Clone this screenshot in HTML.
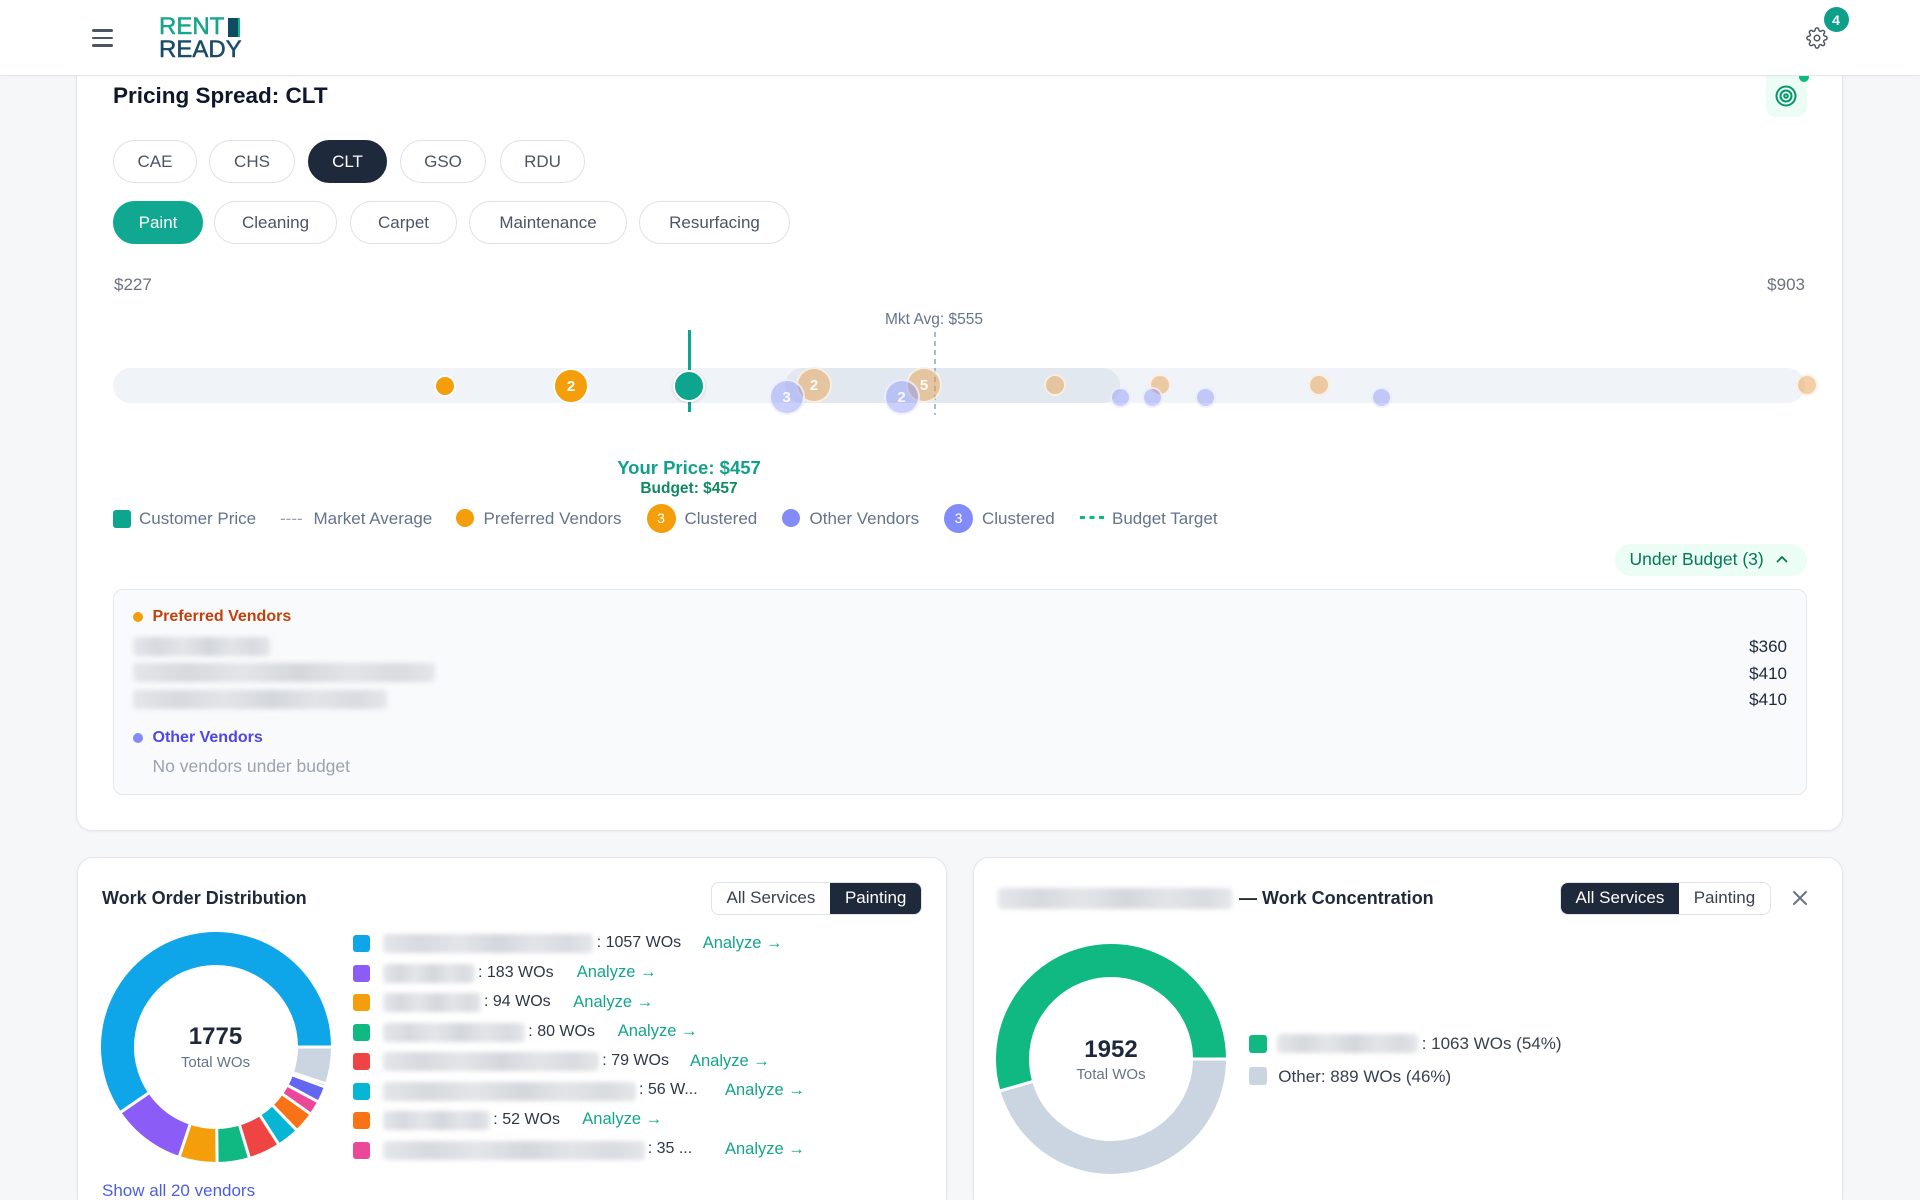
<!DOCTYPE html>
<html><head><meta charset="utf-8">
<style>
*{box-sizing:border-box;margin:0;padding:0}
html,body{width:1920px;height:1200px;overflow:hidden;background:#f6f7f9;font-family:"Liberation Sans",Arial,sans-serif;color:#1e293b;position:relative}
.t{position:absolute;white-space:nowrap;line-height:1}
.header{position:absolute;left:0;top:0;width:1920px;height:76px;background:#fff;border-bottom:1px solid #e6e8ec;box-shadow:0 1px 3px rgba(0,0,0,.04);z-index:10}
.card{position:absolute;background:#fff;border:1px solid #e3e6eb;border-radius:16px;box-shadow:0 1px 3px rgba(15,23,42,.05)}
.pill{position:absolute;border:1.5px solid #dde2ea;border-radius:22px;display:flex;align-items:center;justify-content:center;font-size:17px;color:#4b5563;background:#fff}
.b{position:absolute;border-radius:50%;display:flex;align-items:center;justify-content:center;color:#fff;font-weight:bold;font-size:15px}
.fo{background:rgba(232,160,80,.5);border:2px solid rgba(255,255,255,.7);color:rgba(255,255,255,.9)}
.fb{background:rgba(129,140,248,.42);border:2px solid rgba(255,255,255,.7);color:rgba(255,255,255,.9)}
.blur{position:absolute;border-radius:4px;background:linear-gradient(90deg,#e4e6ea 0%,#d6d9de 18%,#e3e5e9 36%,#d3d7dc 55%,#e2e4e8 72%,#d8dbe0 88%,#e4e6ea 100%);filter:blur(2.5px)}
.lg{font-size:17px;color:#64748b}
.sw{position:absolute;width:17px;height:17px;border-radius:3px}
.row{font-size:16px;color:#2d3748}
.an{font-size:16.5px;color:#14a58a}
.tog{position:absolute;height:33px;border:1px solid #dfe3ea;border-radius:8px;display:flex;overflow:hidden;background:#fff}
.tog div{display:flex;align-items:center;justify-content:center;font-size:17px;color:#374151;height:100%}
.tog .on{background:#1e293b;color:#fff}
</style></head><body>

<!-- header -->
<div class="header">
  <div style="position:absolute;left:92px;top:29px;width:21px;height:2.5px;background:#4b5563;border-radius:2px"></div>
  <div style="position:absolute;left:92px;top:36.5px;width:21px;height:2.5px;background:#4b5563;border-radius:2px"></div>
  <div style="position:absolute;left:92px;top:44px;width:21px;height:2.5px;background:#4b5563;border-radius:2px"></div>
  <div class="t" style="left:159px;top:15.3px;font-size:24px;color:#16a58d;-webkit-text-stroke:0.5px #16a58d">RENT</div>
  <div style="position:absolute;left:228px;top:18px;width:12px;height:19px;background:#0f4c64;border-right:2.5px solid #10b981"></div>
  <div class="t" style="left:159px;top:38.3px;font-size:24px;color:#1d4a6b;-webkit-text-stroke:0.5px #1d4a6b">READY</div>
  <svg style="position:absolute;left:1806px;top:27px" width="22" height="22" viewBox="0 0 24 24" fill="none" stroke="#4b5563" stroke-width="1.6" stroke-linecap="round" stroke-linejoin="round"><circle cx="12" cy="12" r="3"/><path d="M19.4 15a1.65 1.65 0 0 0 .33 1.82l.06.06a2 2 0 0 1 0 2.83 2 2 0 0 1-2.83 0l-.06-.06a1.65 1.65 0 0 0-1.820-.33 1.65 1.65 0 0 0-1 1.51V21a2 2 0 0 1-2 2 2 2 0 0 1-2-2v-.09A1.65 1.65 0 0 0 9 19.4a1.65 1.65 0 0 0-1.82.33l-.06.06a2 2 0 0 1-2.83 0 2 2 0 0 1 0-2.830l.06-.06a1.65 1.65 0 0 0 .33-1.82 1.65 1.65 0 0 0-1.51-1H3a2 2 0 0 1-2-2 2 2 0 0 1 2-2h.09A1.65 1.65 0 0 0 4.6 9a1.65 1.65 0 0 0-.33-1.82l-.06-.06a2 2 0 0 1 0-2.83 2 2 0 0 1 2.83 0l.06.06a1.65 1.65 0 0 0 1.82.33H9a1.65 1.65 0 0 0 1-1.51V3a2 2 0 0 1 2-2 2 2 0 0 1 2 2v.09a1.65 1.65 0 0 0 1 1.51 1.65 1.65 0 0 0 1.82-.33l.06-.06a2 2 0 0 1 2.83 0 2 2 0 0 1 0 2.83l-.06.06a1.65 1.65 0 0 0-.33 1.82V9a1.65 1.65 0 0 0 1.51 1H21a2 2 0 0 1 2 2 2 2 0 0 1-2 2h-.09a1.65 1.65 0 0 0-1.51 1z"/></svg>
  <div class="b" style="left:1823.5px;top:7px;width:25px;height:25px;background:#0d9f8a;font-size:14px">4</div>
</div>

<!-- main card -->
<div class="card" style="left:76px;top:40px;width:1767px;height:791px"></div>
<div style="position:absolute;left:1766px;top:60px;width:41px;height:57px;background:#ecfdf5;border-radius:10px"></div>
<div style="position:absolute;left:1799px;top:72px;width:10px;height:10px;background:#10b981;border-radius:50%"></div>
<svg style="position:absolute;left:1774px;top:84px" width="24" height="24" viewBox="0 0 24 24" fill="none" stroke="#059669" stroke-width="2"><circle cx="12" cy="12" r="9.5"/><circle cx="12" cy="12" r="5.5"/><circle cx="12" cy="12" r="1.8"/></svg>

<div class="t" style="left:113px;top:84.75px;font-size:22.5px;font-weight:bold;color:#0f172a">Pricing Spread: CLT</div>

<div class="pill" style="left:113px;top:140px;width:84px;height:43px">CAE</div>
<div class="pill" style="left:209px;top:140px;width:86px;height:43px">CHS</div>
<div class="pill" style="left:308px;top:140px;width:79px;height:43px;background:#1e293b;border-color:#1e293b;color:#fff">CLT</div>
<div class="pill" style="left:400px;top:140px;width:86px;height:43px">GSO</div>
<div class="pill" style="left:500px;top:140px;width:85px;height:43px">RDU</div>

<div class="pill" style="left:113px;top:201px;width:90px;height:43px;background:#10a891;border-color:#10a891;color:#fff">Paint</div>
<div class="pill" style="left:214px;top:201px;width:123px;height:43px">Cleaning</div>
<div class="pill" style="left:350px;top:201px;width:107px;height:43px">Carpet</div>
<div class="pill" style="left:469px;top:201px;width:158px;height:43px">Maintenance</div>
<div class="pill" style="left:639px;top:201px;width:151px;height:43px">Resurfacing</div>

<div class="t" style="left:114px;top:275.5px;font-size:17px;color:#6b7280">$227</div>
<div class="t" style="right:115px;top:275.5px;font-size:17px;color:#6b7280">$903</div>

<div class="t" style="left:934px;top:312.25px;font-size:15.5px;color:#64748b;transform:translateX(-50%)">Mkt Avg: $555</div>

<!-- track -->
<div style="position:absolute;left:113px;top:368px;width:1692px;height:35px;border-radius:17.5px;background:#f0f3f7"></div>
<div style="position:absolute;left:785px;top:368px;width:335px;height:35px;border-radius:17.5px;background:#e2e8f0"></div>
<svg style="position:absolute;left:930px;top:330px" width="10" height="90"><line x1="5" y1="2" x2="5" y2="85" stroke="#94a3b8" stroke-width="1.5" stroke-dasharray="5 4"/></svg>

<div style="position:absolute;left:687.5px;top:330px;width:3px;height:82px;background:#0ea58f"></div>

<div class="b" style="left:434px;top:375px;width:22px;height:22px;background:#f59e0b;border:2px solid #fff"></div>
<div class="b" style="left:553px;top:368px;width:36px;height:36px;background:#f59e0b;border:2px solid #fff">2</div>

<div class="b fo" style="left:796px;top:367px;width:36px;height:36px">2</div>
<div class="b fo" style="left:906px;top:367px;width:36px;height:36px">5</div>
<div class="b fo" style="left:1044px;top:374px;width:22px;height:22px"></div>
<div class="b fo" style="left:1149px;top:374px;width:22px;height:22px"></div>
<div class="b fo" style="left:1308px;top:374px;width:22px;height:22px"></div>
<div class="b fo" style="left:1796px;top:374px;width:22px;height:22px"></div>

<div class="b fb" style="left:768.5px;top:379px;width:36px;height:36px">3</div>
<div class="b fb" style="left:883.5px;top:379px;width:36px;height:36px">2</div>
<div class="b fb" style="left:1110px;top:386.5px;width:21px;height:21px"></div>
<div class="b fb" style="left:1142px;top:386.5px;width:21px;height:21px"></div>
<div class="b fb" style="left:1195px;top:386.5px;width:21px;height:21px"></div>
<div class="b fb" style="left:1371px;top:386.5px;width:21px;height:21px"></div>

<div class="b" style="left:672.5px;top:369.5px;width:32px;height:32px;background:#0ea58f;border:2.5px solid #fff;box-shadow:0 1px 3px rgba(0,0,0,.15)"></div>

<div class="t" style="left:689px;top:458.75px;font-size:18.5px;font-weight:bold;color:#12a08a;transform:translateX(-50%)">Your Price: $457</div>
<div class="t" style="left:689px;top:481.25px;font-size:15.5px;font-weight:bold;color:#0f8a5f;transform:translateX(-50%)">Budget: $457</div>

<!-- legend -->
<div class="sw" style="left:112.5px;top:509.5px;width:18px;height:18px;background:#0ea58f"></div>
<div class="t lg" style="left:139px;top:509.5px">Customer Price</div>
<div class="t lg" style="left:280px;top:509.5px;color:#94a3b8">----</div>
<div class="t lg" style="left:313.5px;top:509.5px">Market Average</div>
<div class="b" style="left:456px;top:509px;width:18px;height:18px;background:#f59e0b"></div>
<div class="t lg" style="left:483.5px;top:509.5px">Preferred Vendors</div>
<div class="b" style="left:646.5px;top:503.5px;width:29px;height:29px;background:#f59e0b;font-size:14px;font-weight:normal">3</div>
<div class="t lg" style="left:684.5px;top:509.5px">Clustered</div>
<div class="b" style="left:782px;top:509px;width:18px;height:18px;background:#818cf8"></div>
<div class="t lg" style="left:809.5px;top:509.5px">Other Vendors</div>
<div class="b" style="left:944px;top:503.5px;width:29px;height:29px;background:#818cf8;font-size:14px;font-weight:normal">3</div>
<div class="t lg" style="left:982px;top:509.5px">Clustered</div>
<svg style="position:absolute;left:1080px;top:516px" width="25" height="4"><rect x="0" y="0" width="5" height="3" fill="#10b981"/><rect x="9.5" y="0" width="5" height="3" fill="#10b981"/><rect x="19" y="0" width="5" height="3" fill="#10b981"/></svg>
<div class="t lg" style="left:1112px;top:509.5px">Budget Target</div>

<div style="position:absolute;left:1615px;top:544px;width:192px;height:32px;border-radius:16px;background:#ecfdf5"></div>
<div class="t" style="left:1629.5px;top:551.25px;font-size:17.5px;color:#047857">Under Budget (3)</div>
<svg style="position:absolute;left:1776px;top:554px" width="12" height="10"><polyline points="1.5,7.5 6,3 10.5,7.5" fill="none" stroke="#047857" stroke-width="1.8" stroke-linecap="round" stroke-linejoin="round"/></svg>

<!-- panel -->
<div style="position:absolute;left:113px;top:588.5px;width:1694px;height:206.5px;background:#f8fafc;border:1px solid #e2e8f0;border-radius:10px"></div>
<div class="b" style="left:132.75px;top:611.75px;width:10.5px;height:10.5px;background:#f59e0b"></div>
<div class="t" style="left:152.5px;top:609px;font-size:16px;font-weight:bold;color:#c2410c">Preferred Vendors</div>
<div class="blur" style="left:133px;top:637px;width:137px;height:19px"></div>
<div class="blur" style="left:133px;top:663px;width:302px;height:19px"></div>
<div class="blur" style="left:133px;top:690px;width:254px;height:19px"></div>
<div class="t" style="right:133px;top:638.2px;font-size:17px;color:#1e293b">$360</div>
<div class="t" style="right:133px;top:664.5px;font-size:17px;color:#1e293b">$410</div>
<div class="t" style="right:133px;top:691.2px;font-size:17px;color:#1e293b">$410</div>
<div class="b" style="left:132.75px;top:732.5px;width:10.5px;height:10.5px;background:#818cf8"></div>
<div class="t" style="left:152.5px;top:729.7px;font-size:16px;font-weight:bold;color:#4f46e5">Other Vendors</div>
<div class="t" style="left:152.5px;top:758.25px;font-size:17.5px;color:#9ca3af">No vendors under budget</div>

<!-- bottom-left card -->
<div class="card" style="left:77px;top:857px;width:870px;height:343px;border-bottom:none;border-bottom-left-radius:0;border-bottom-right-radius:0"></div>
<div class="t" style="left:102px;top:889px;font-size:18px;font-weight:bold;color:#1e293b">Work Order Distribution</div>
<div class="tog" style="left:710.5px;top:881.5px;width:211.5px">
  <div style="width:120px">All Services</div><div class="on" style="width:91.5px">Painting</div>
</div>

<svg style="position:absolute;left:95.5px;top:927px" width="240" height="240">
  <g fill="none" stroke-width="33">
    <circle cx="120" cy="120" r="98.5" stroke="#0ea5e9" stroke-dasharray="368.53 700" transform="rotate(-214.37 120 120)"/>
    <circle cx="120" cy="120" r="98.5" stroke="#8b5cf6" stroke-dasharray="63.80 700" transform="rotate(108.52 120 120)"/>
    <circle cx="120" cy="120" r="98.5" stroke="#f59e0b" stroke-dasharray="32.77 700" transform="rotate(89.46 120 120)"/>
    <circle cx="120" cy="120" r="98.5" stroke="#10b981" stroke-dasharray="27.90 700" transform="rotate(73.23 120 120)"/>
    <circle cx="120" cy="120" r="98.5" stroke="#ef4444" stroke-dasharray="27.54 700" transform="rotate(57.21 120 120)"/>
    <circle cx="120" cy="120" r="98.5" stroke="#06b6d4" stroke-dasharray="19.53 700" transform="rotate(45.85 120 120)"/>
    <circle cx="120" cy="120" r="98.5" stroke="#f97316" stroke-dasharray="18.14 700" transform="rotate(35.30 120 120)"/>
    <circle cx="120" cy="120" r="98.5" stroke="#ec4899" stroke-dasharray="12.21 700" transform="rotate(28.20 120 120)"/>
    <circle cx="120" cy="120" r="98.5" stroke="#6366f1" stroke-dasharray="13.94 700" transform="rotate(20.09 120 120)"/>
    <circle cx="120" cy="120" r="98.5" stroke="#14b8a6" stroke-dasharray="2.79 700" transform="rotate(18.47 120 120)"/>
    <circle cx="120" cy="120" r="98.5" stroke="#cbd5e1" stroke-dasharray="31.75 700" transform="rotate(0 120 120)"/>
  </g>
  <g stroke="#fff" stroke-width="3">
    <line x1="120" y1="40" x2="120" y2="2" transform="rotate(90 120 120)"/>
    <line x1="120" y1="40" x2="120" y2="2" transform="rotate(235.63 120 120)"/>
    <line x1="120" y1="40" x2="120" y2="2" transform="rotate(198.52 120 120)"/>
    <line x1="120" y1="40" x2="120" y2="2" transform="rotate(179.46 120 120)"/>
    <line x1="120" y1="40" x2="120" y2="2" transform="rotate(163.23 120 120)"/>
    <line x1="120" y1="40" x2="120" y2="2" transform="rotate(147.21 120 120)"/>
    <line x1="120" y1="40" x2="120" y2="2" transform="rotate(135.85 120 120)"/>
    <line x1="120" y1="40" x2="120" y2="2" transform="rotate(125.30 120 120)"/>
    <line x1="120" y1="40" x2="120" y2="2" transform="rotate(118.20 120 120)"/>
    <line x1="120" y1="40" x2="120" y2="2" transform="rotate(110.09 120 120)"/>
    <line x1="120" y1="40" x2="120" y2="2" transform="rotate(108.47 120 120)"/>
  </g>
</svg>
<div class="t" style="left:215.5px;top:1025px;font-size:24px;font-weight:bold;color:#1e293b;transform:translateX(-50%)">1775</div>
<div class="t" style="left:215.5px;top:1055px;font-size:15px;color:#64748b;transform:translateX(-50%)">Total WOs</div>

<!-- left legend rows -->
<div class="sw" style="left:353px;top:935px;background:#0ea5e9"></div>
<div class="blur" style="left:383px;top:934px;width:210px;height:19px"></div>
<div class="t row" style="left:596.7px;top:935.3px">: 1057 WOs</div>
<div class="t an" style="left:702.7px;top:935px">Analyze →</div>

<div class="sw" style="left:353px;top:964.5px;background:#8b5cf6"></div>
<div class="blur" style="left:383px;top:963.5px;width:92px;height:19px"></div>
<div class="t row" style="left:478px;top:964.7px">: 183 WOs</div>
<div class="t an" style="left:576.7px;top:964.4px">Analyze →</div>

<div class="sw" style="left:353px;top:994px;background:#f59e0b"></div>
<div class="blur" style="left:383px;top:993px;width:98px;height:19px"></div>
<div class="t row" style="left:484px;top:994.1px">: 94 WOs</div>
<div class="t an" style="left:573.3px;top:993.8px">Analyze →</div>

<div class="sw" style="left:353px;top:1023.5px;background:#10b981"></div>
<div class="blur" style="left:383px;top:1022.5px;width:142px;height:19px"></div>
<div class="t row" style="left:528.3px;top:1023.5px">: 80 WOs</div>
<div class="t an" style="left:617.7px;top:1023.2px">Analyze →</div>

<div class="sw" style="left:353px;top:1053px;background:#ef4444"></div>
<div class="blur" style="left:383px;top:1052px;width:216px;height:19px"></div>
<div class="t row" style="left:602.3px;top:1052.9px">: 79 WOs</div>
<div class="t an" style="left:690px;top:1052.6px">Analyze →</div>

<div class="sw" style="left:353px;top:1082.5px;background:#06b6d4"></div>
<div class="blur" style="left:383px;top:1081.5px;width:253px;height:19px"></div>
<div class="t row" style="left:639px;top:1082.3px">: 56 W...</div>
<div class="t an" style="left:725px;top:1082px">Analyze →</div>

<div class="sw" style="left:353px;top:1112px;background:#f97316"></div>
<div class="blur" style="left:383px;top:1111px;width:107px;height:19px"></div>
<div class="t row" style="left:493.3px;top:1111.7px">: 52 WOs</div>
<div class="t an" style="left:582.3px;top:1111.4px">Analyze →</div>

<div class="sw" style="left:353px;top:1141.5px;background:#ec4899"></div>
<div class="blur" style="left:383px;top:1140.5px;width:262px;height:19px"></div>
<div class="t row" style="left:647.7px;top:1141.1px">: 35 ...</div>
<div class="t an" style="left:725px;top:1140.8px">Analyze →</div>

<div class="t" style="left:102px;top:1181.5px;font-size:17px;color:#4c5ee0">Show all 20 vendors</div>

<!-- bottom-right card -->
<div class="card" style="left:973px;top:857px;width:870px;height:343px;border-bottom:none;border-bottom-left-radius:0;border-bottom-right-radius:0"></div>
<div class="blur" style="left:998px;top:888px;width:234px;height:21px"></div>
<div class="t" style="left:1239px;top:889px;font-size:18px;font-weight:bold;color:#1e293b">— Work Concentration</div>
<div class="tog" style="left:1560px;top:881.5px;width:211px">
  <div class="on" style="width:119px">All Services</div><div style="width:92px">Painting</div>
</div>
<svg style="position:absolute;left:1792px;top:890px" width="16" height="16"><path d="M2 2L14 14M14 2L2 14" stroke="#6b7280" stroke-width="2" stroke-linecap="round"/></svg>

<svg style="position:absolute;left:991px;top:939px" width="240" height="240">
  <g fill="none" stroke-width="33">
    <circle cx="120" cy="120" r="98.5" stroke="#10b981" stroke-dasharray="337.02 700" transform="rotate(163.96 120 120)"/>
    <circle cx="120" cy="120" r="98.5" stroke="#cbd5e1" stroke-dasharray="281.87 700" transform="rotate(0 120 120)"/>
  </g>
  <g stroke="#fff" stroke-width="3">
    <line x1="120" y1="40" x2="120" y2="2" transform="rotate(90 120 120)"/>
    <line x1="120" y1="40" x2="120" y2="2" transform="rotate(253.96 120 120)"/>
  </g>
</svg>
<div class="t" style="left:1111px;top:1037.5px;font-size:24px;font-weight:bold;color:#1e293b;transform:translateX(-50%)">1952</div>
<div class="t" style="left:1111px;top:1066.5px;font-size:15px;color:#64748b;transform:translateX(-50%)">Total WOs</div>

<div class="sw" style="left:1249px;top:1034.5px;width:18px;height:18px;background:#10b981"></div>
<div class="blur" style="left:1277px;top:1034px;width:141px;height:19px"></div>
<div class="t" style="left:1421.7px;top:1035px;font-size:17px;color:#374151">: 1063 WOs (54%)</div>
<div class="sw" style="left:1249px;top:1067px;width:18px;height:18px;background:#cbd5e1"></div>
<div class="t" style="left:1278.3px;top:1067.5px;font-size:17px;color:#374151">Other: 889 WOs (46%)</div>

</body></html>
